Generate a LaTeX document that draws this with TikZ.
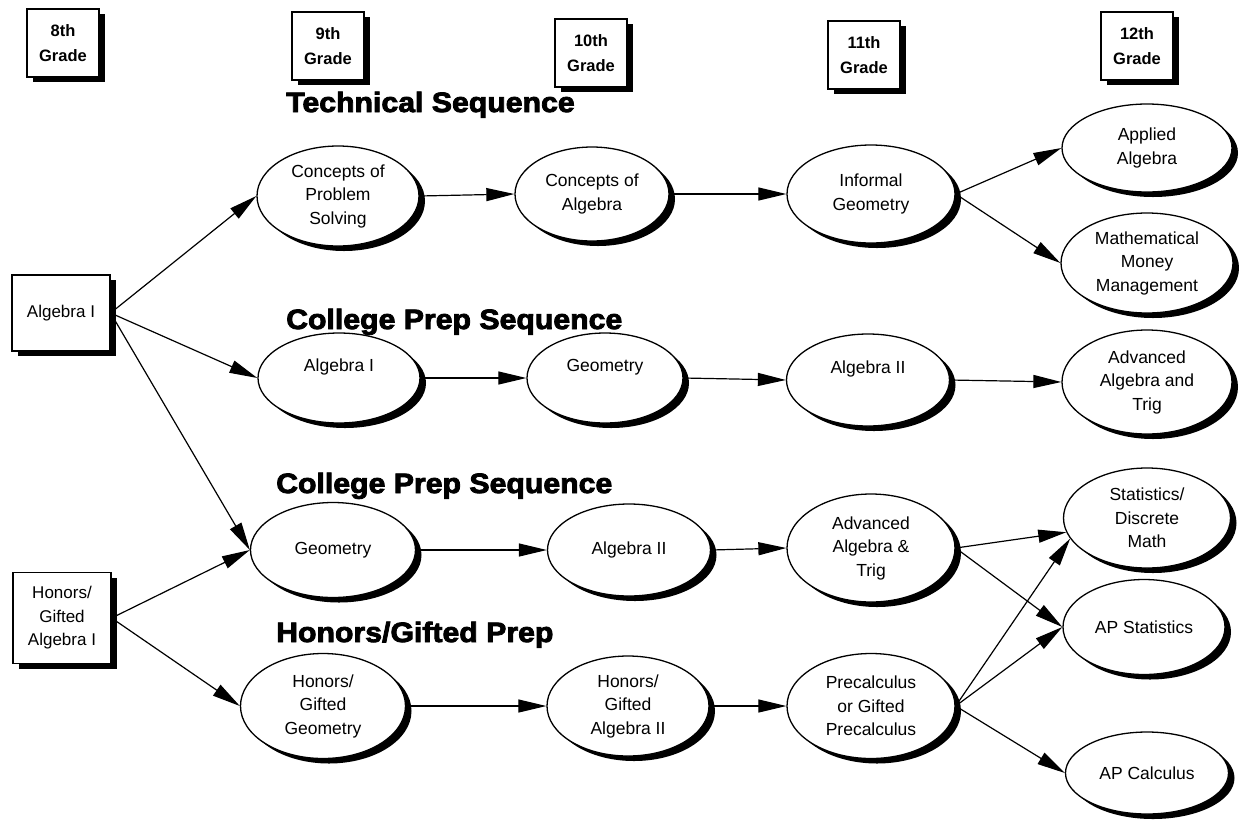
\documentclass[tikz,border=0pt]{standalone}
\usepackage{fontspec}
\setmainfont{Liberation Sans}
\newfontfamily\titlefont{Liberation Sans Bold}[FakeBold=3,FakeStretch=1.08]
\usetikzlibrary{arrows.meta,shapes.geometric,shadows}
\begin{document}
\begin{tikzpicture}[x=1pt,y=-1pt,
  shad/.style={drop shadow={shadow xshift=6pt,shadow yshift=-5pt,fill=black,opacity=1}},
  ell/.style={ellipse,draw,line width=1.3pt,fill=white,align=center,inner sep=0pt,
    font=\fontsize{17.5}{23.5}\selectfont,shad},
  up/.style={text depth=26pt},
  sbox/.style={rectangle,draw,line width=1.2pt,fill=white,align=center,inner sep=0pt,shad},
  grade/.style={sbox,font=\fontsize{16.5}{25}\selectfont\bfseries,minimum width=72pt,minimum height=68pt},
  lbox/.style={sbox,font=\fontsize{17}{23.5}\selectfont,minimum width=98pt},
  ttl/.style={font=\titlefont\fontsize{28}{30}\selectfont,anchor=base west,inner sep=0pt},
  arr/.style={-{Triangle[length=28pt,width=13pt]},line width=1.2pt}]
\useasboundingbox (0,0) rectangle (1239,823);

% grade headers
\node[grade] (g8)  at (63,43)   {8th\\Grade};
\node[grade] (g9)  at (328,46)  {9th\\Grade};
\node[grade] (g10) at (591,53)  {10th\\Grade};
\node[grade] (g11) at (864,55)  {11th\\Grade};
\node[grade] (g12) at (1137,46) {12th\\Grade};

% left boxes
\node[lbox,minimum height=76pt] (a1box) at (61,313) {Algebra I};
\node[lbox,minimum height=91pt] (hbox) at (62,618) {Honors/\\Gifted\\Algebra I};

% titles
\node[ttl] (t1) at (286,112) {Technical Sequence};
\node[ttl] (t2) at (286,329) {College Prep Sequence};
\node[ttl] (t3) at (276,493) {College Prep Sequence};
\node[ttl] (t4) at (276,642) {Honors/Gifted Prep};

% row 1
\node[ell,minimum width=162pt,minimum height=100pt] (cps) at (338,196) {Concepts of\\Problem\\Solving};
\node[ell,minimum width=154pt,minimum height=94pt] (coa) at (592,194) {Concepts of\\Algebra};
\node[ell,minimum width=168pt,minimum height=98pt] (ig) at (871,194) {Informal\\Geometry};
\node[ell,minimum width=170pt,minimum height=88pt] (aa) at (1147,148) {Applied\\Algebra};
\node[ell,minimum width=172pt,minimum height=100pt] (mmm) at (1147,263) {Mathematical\\Money\\Management};

% row 2
\node[ell,up,minimum width=162pt,minimum height=90pt] (alg1) at (339,378) {Algebra I};
\node[ell,up,minimum width=156pt,minimum height=90pt] (geo) at (605,378) {Geometry};
\node[ell,up,minimum width=163pt,minimum height=92pt] (alg2) at (868,380) {Algebra II};
\node[ell,minimum width=170pt,minimum height=104pt] (aat12) at (1147,382) {Advanced\\Algebra and\\Trig};

% row 3
\node[ell,minimum width=165pt,minimum height=95pt] (geo3) at (333,550) {Geometry};
\node[ell,minimum width=163pt,minimum height=92pt] (alg23) at (629,550) {Algebra II};
\node[ell,minimum width=168pt,minimum height=108pt] (aat11) at (871,548) {Advanced\\Algebra \&\\Trig};

% row 4
\node[ell,minimum width=165pt,minimum height=105pt] (hgg) at (323,706) {Honors/\\Gifted\\Geometry};
\node[ell,minimum width=162pt,minimum height=100pt] (hga2) at (628,706) {Honors/\\Gifted\\Algebra II};
\node[ell,minimum width=168pt,minimum height=105pt] (pre) at (871,706) {Precalculus\\or Gifted\\Precalculus};

% 12th grade right column
\node[ell,minimum width=167pt,minimum height=100pt] (sdm) at (1147,518) {Statistics/\\Discrete\\Math};
\node[ell,minimum width=162pt,minimum height=95pt] (aps) at (1144,627) {AP Statistics};
\node[ell,minimum width=163pt,minimum height=82pt] (apc) at (1147,773) {AP Calculus};

% connectors
\draw[arr] (a1box.east) -- (cps.west);
\draw[arr] (a1box.east) -- (alg1.west);
\draw[arr] (a1box.east) -- (geo3.west);
\draw[arr] (hbox.east) -- (geo3.west);
\draw[arr] (hbox.east) -- (hgg.west);

\draw[arr] (cps.east) -- (coa.west);
\draw[arr] (coa.east) -- (ig.west);
\draw[arr] (ig.east) -- (aa.west);
\draw[arr] (ig.east) -- (mmm.west);

\draw[arr] (alg1.east) -- (geo.west);
\draw[arr] (geo.east) -- (alg2.west);
\draw[arr] (alg2.east) -- (aat12.west);

\draw[arr] (geo3.east) -- (alg23.west);
\draw[arr] (alg23.east) -- (aat11.west);
\draw[arr] (aat11.east) -- (sdm.190);
\draw[arr] (aat11.east) -- (aps.west);

\draw[arr] (hgg.east) -- (hga2.west);
\draw[arr] (hga2.east) -- (pre.west);
\draw[arr] (pre.east) -- (sdm.195);
\draw[arr] (pre.east) -- (aps.west);
\draw[arr] (pre.east) -- (apc.west);
\end{tikzpicture}
\end{document}
